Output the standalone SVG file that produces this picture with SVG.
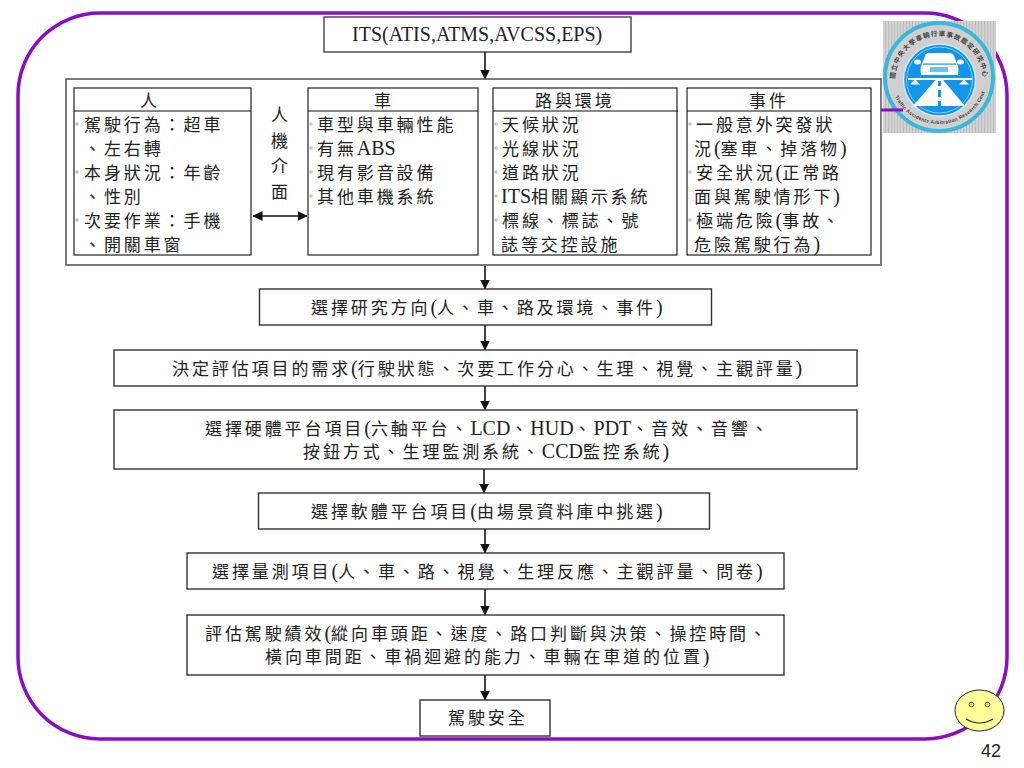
<svg xmlns="http://www.w3.org/2000/svg" width="1024" height="768" viewBox="0 0 1024 768">
<style>
text{font-family:"Noto Sans CJK TC","Liberation Serif",serif;font-size:17px;letter-spacing:2.900px;fill:#222}
.l{font-family:"Liberation Serif",serif;font-size:20px;letter-spacing:0}
.b{fill:#fff;stroke:#222;stroke-width:1.2}
.o{fill:#fff;stroke:#333;stroke-width:1.4}
.h{stroke:#111;stroke-width:1.1;fill:none}
.c{stroke:#111;stroke-width:1.6;fill:none}
.a{marker-end:url(#ah)}
.dot{fill:#c4c8c4}
.m{text-anchor:middle}
.lg{font-family:"Noto Sans CJK TC",sans-serif;font-weight:700;font-size:6.6px;letter-spacing:.9px;fill:#444}
.le{font-family:"Liberation Sans",sans-serif;font-weight:700;font-size:5px;letter-spacing:.25px;fill:#444}
</style>
<defs>
<marker id="ah" markerWidth="11" markerHeight="12" refX="9.5" refY="5" orient="auto" markerUnits="userSpaceOnUse"><path d="M0,0L10,5L0,10Z" fill="#111"/></marker>
<marker id="as" markerWidth="11" markerHeight="12" refX="0.5" refY="5" orient="auto" markerUnits="userSpaceOnUse"><path d="M10,0L0,5L10,10Z" fill="#111"/></marker>
<path id="arcT" d="M895,80A44,44 0 1 1 983,80"/>
<path id="arcB" d="M893,92A49,49 0 0 0 985,92"/>
<pattern id="tx" width="3" height="3" patternUnits="userSpaceOnUse"><rect width="3" height="3" fill="#d2d2d2"/><rect width="1" height="3" fill="#bdbdbd"/></pattern>
</defs>

<g id="frame"><rect x="18" y="13" width="989" height="726" rx="82" ry="82" fill="none" stroke="#8a0cc4" stroke-width="3.500"/></g>

<g id="logo">
<rect x="883" y="21" width="113" height="112" fill="url(#tx)"/>
<circle cx="939" cy="77" r="54" fill="#cfcfcf" stroke="#38b8dc" stroke-width="4"/>
<circle cx="939.500" cy="80" r="36" fill="#1296ec" stroke="#d8e8f0" stroke-width="1.500"/>
<circle cx="939.500" cy="80" r="33" fill="none" stroke="#8ccbf2" stroke-width="1"/>
<text class="lg"><textPath href="#arcT" startOffset="1">國立中央大學車輛行車事故鑑定研究中心</textPath></text>
<text class="le"><textPath href="#arcB" startOffset="5">Traffic Accidents Arbitration Research Center of NCU</textPath></text>
<ellipse cx="917.500" cy="62" rx="3.500" ry="2.500" fill="#fff"/><ellipse cx="960.500" cy="62" rx="3.500" ry="2.500" fill="#fff"/>
<path d="M928,53H950Q954,53 955,59L958,66Q959,70 958,75H921Q920,70 921,66L924,59Q925,53 928,53Z" fill="#fff"/>
<rect x="923" y="63.500" width="33" height="1.200" fill="#1296ec"/>
<rect x="930" y="67" width="18" height="5" fill="#6cc4e8"/>
<path d="M908,78H972V80H908Z" fill="#fff"/>
<path d="M915,79L920,84.500H910ZM964,79L969,84.500H959Z" fill="#fff"/>
<path d="M935.500,80H943L965,106H913Z" fill="#fff"/>
<path d="M938,81h3v5h-3zM938,90h3v7h-3zM938,101h3v5h-3z" fill="#1296ec"/>
<line x1="881" y1="110" x2="903" y2="110" stroke="#8a0cc4" stroke-width="3"/>
</g>

<g id="connectors">
<line class="c a" x1="485" y1="52" x2="485" y2="79"/>
<line class="c a" x1="485" y1="265" x2="485" y2="289"/>
<line class="c a" x1="485" y1="325" x2="485" y2="350"/>
<line class="c a" x1="485" y1="386" x2="485" y2="410"/>
<line class="c a" x1="484" y1="469" x2="484" y2="493"/>
<line class="c a" x1="485" y1="529" x2="485" y2="553"/>
<line class="c a" x1="485" y1="589" x2="485" y2="615"/>
<line class="c a" x1="485" y1="675" x2="485" y2="700"/>
</g>

<g id="n-its"><rect class="b" x="324" y="17" width="307" height="35"/><text x="352" y="41"><tspan class="l">ITS(ATIS,ATMS,AVCSS,EPS)</tspan></text></g>

<g id="n-group"><rect x="66" y="79" width="815" height="186" fill="#fff" stroke="#444" stroke-width="1.400"/><line x1="66" y1="265" x2="881" y2="265" stroke="#777" stroke-width="1.500"/></g>

<g id="n-person">
<rect class="b" x="74" y="88" width="177" height="167"/><line class="h" x1="74" y1="111" x2="251" y2="111"/>
<text class="m" x="150" y="107">人</text>
<circle class="dot" cx="77" cy="124" r="1.800"/><circle class="dot" cx="77" cy="172" r="1.800"/><circle class="dot" cx="77" cy="220" r="1.800"/>
<text x="84" y="131">駕駛行為&#xFF1A;超車</text>
<text x="84" y="155">、左右轉</text>
<text x="84" y="179">本身狀況&#xFF1A;年齡</text>
<text x="84" y="203">、性別</text>
<text x="84" y="227">次要作業&#xFF1A;手機</text>
<text x="84" y="251">、開關車窗</text>
</g>

<g id="n-hmi">
<text class="m" x="281" y="121">人</text><text class="m" x="281" y="147">機</text><text class="m" x="281" y="172">介</text><text class="m" x="281" y="198">面</text>
<line class="c" x1="253" y1="216" x2="307" y2="216" marker-start="url(#as)" marker-end="url(#ah)"/>
</g>

<g id="n-vehicle">
<rect class="b" x="308" y="88" width="170" height="167"/><line class="h" x1="308" y1="111" x2="478" y2="111"/>
<text class="m" x="384" y="107">車</text>
<circle class="dot" cx="311" cy="124" r="1.800"/><circle class="dot" cx="311" cy="148" r="1.800"/><circle class="dot" cx="311" cy="172" r="1.800"/><circle class="dot" cx="311" cy="196" r="1.800"/>
<text x="317" y="131">車型與車輛性能</text>
<text x="317" y="155">有無<tspan class="l">ABS</tspan></text>
<text x="317" y="179">現有影音設備</text>
<text x="317" y="203">其他車機系統</text>
</g>

<g id="n-road">
<rect class="b" x="493" y="88" width="184" height="167"/><line class="h" x1="493" y1="111" x2="678" y2="111"/>
<text x="535" y="107">路與環境</text>
<circle class="dot" cx="496" cy="124" r="1.800"/><circle class="dot" cx="496" cy="148" r="1.800"/><circle class="dot" cx="496" cy="172" r="1.800"/><circle class="dot" cx="496" cy="196" r="1.800"/><circle class="dot" cx="496" cy="220" r="1.800"/>
<text x="502" y="131">天候狀況</text>
<text x="502" y="155">光線狀況</text>
<text x="502" y="179">道路狀況</text>
<text x="501" y="203"><tspan class="l">ITS</tspan>相關顯示系統</text>
<text x="502" y="227">標線、標誌、號</text>
<text x="501" y="251">誌等交控設施</text>
</g>

<g id="n-event">
<rect class="b" x="687" y="88" width="184" height="167"/><line class="h" x1="687" y1="111" x2="871" y2="111"/>
<text x="749" y="107">事件</text>
<circle class="dot" cx="690" cy="124" r="1.800"/><circle class="dot" cx="690" cy="172" r="1.800"/><circle class="dot" cx="690" cy="220" r="1.800"/>
<text x="696" y="131">一般意外突發狀</text>
<text x="694" y="155">況<tspan class="l">(</tspan>塞車、掉落物<tspan class="l">)</tspan></text>
<text x="696" y="179">安全狀況<tspan class="l">(</tspan>正常路</text>
<text x="694" y="203">面與駕駛情形下<tspan class="l">)</tspan></text>
<text x="696" y="227">極端危險<tspan class="l">(</tspan>事故、</text>
<text x="694" y="251">危險駕駛行為<tspan class="l">)</tspan></text>
</g>

<g id="n-direction"><rect class="o" x="259.500" y="289" width="452" height="36"/><text x="311" y="314">選擇研究方向<tspan class="l">(</tspan>人、車、路及環境、事件<tspan class="l">)</tspan></text></g>
<g id="n-needs"><rect class="o" x="114" y="350" width="743" height="36"/><text x="172" y="375">決定評估項目的需求<tspan class="l">(</tspan>行駛狀態、次要工作分心、生理、視覺、主觀評量<tspan class="l">)</tspan></text></g>
<g id="n-hardware"><rect class="o" x="114" y="410" width="743" height="59"/><text x="205" y="435">選擇硬體平台項目<tspan class="l">(</tspan>六軸平台、<tspan class="l">LCD</tspan>、<tspan class="l">HUD</tspan>、<tspan class="l">PDT</tspan>、音效、音響、</text><text x="303" y="458">按鈕方式、生理監測系統、<tspan class="l">CCD</tspan>監控系統<tspan class="l">)</tspan></text></g>
<g id="n-software"><rect class="o" x="258.500" y="493" width="451" height="36"/><text x="311" y="518">選擇軟體平台項目<tspan class="l">(</tspan>由場景資料庫中挑選<tspan class="l">)</tspan></text></g>
<g id="n-measure"><rect class="o" x="187" y="553" width="597" height="36"/><text x="212" y="578">選擇量測項目<tspan class="l">(</tspan>人、車、路、視覺、生理反應、主觀評量、問卷<tspan class="l">)</tspan></text></g>
<g id="n-perf"><rect class="o" x="187" y="615" width="597" height="60"/><text x="205" y="640">評估駕駛績效<tspan class="l">(</tspan>縱向車頭距、速度、路口判斷與決策、操控時間、</text><text x="265" y="663">橫向車間距、車禍迴避的能力、車輛在車道的位置<tspan class="l">)</tspan></text></g>
<g id="n-safe"><rect class="o" x="420" y="700" width="130" height="36"/><text x="448" y="724">駕駛安全</text></g>

<g id="smiley">
<ellipse cx="979.500" cy="710.500" rx="24.500" ry="20.500" fill="#ffff99" stroke="#222" stroke-width="1"/>
<ellipse cx="971.500" cy="704.500" rx="2.500" ry="2.300" fill="#d8d870" stroke="#333" stroke-width=".8"/>
<ellipse cx="987.500" cy="704.500" rx="2.500" ry="2.300" fill="#d8d870" stroke="#333" stroke-width=".8"/>
<path d="M966,719Q979.500,727 993,719" fill="none" stroke="#222" stroke-width="1.200"/>
</g>
<text id="page" x="991" y="757" class="m" style="font-family:'Liberation Sans',sans-serif;font-size:18px;letter-spacing:0">42</text>
</svg>
